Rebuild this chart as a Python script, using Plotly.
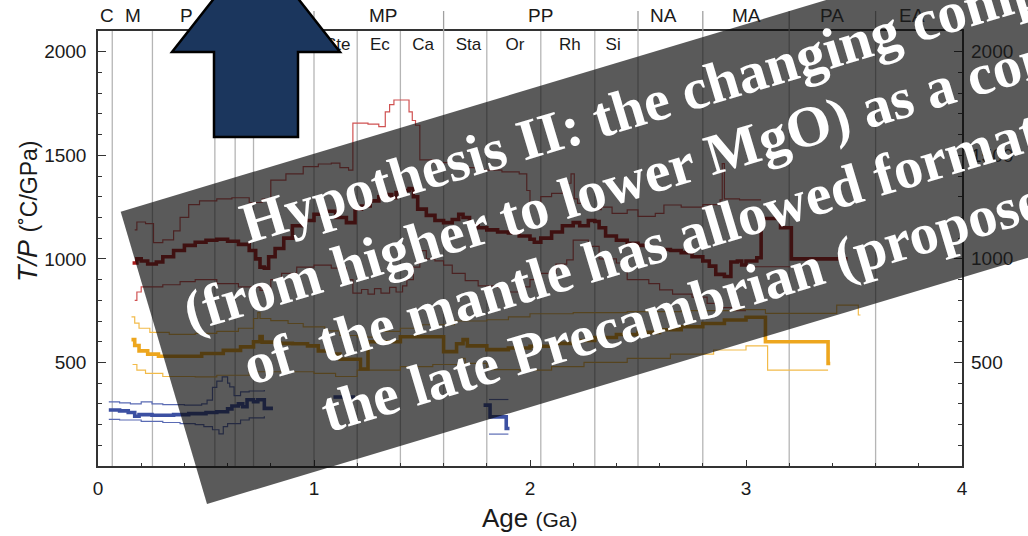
import plotly.graph_objects as go

# ---------------- data ----------------
# Geological time-scale boundaries (Ga)
period_bounds = [0.066, 0.252, 0.541, 0.635, 0.720, 1.0, 1.2, 1.4, 1.6, 1.8,
                 2.05, 2.3, 2.5, 2.8, 3.2, 3.6]
era_bounds = [0.541, 1.0, 1.6, 2.5, 2.8, 3.2, 3.6]
era_labels = ["C", "M", "P", "MP", "PP", "NA", "MA", "PA", "EA"]
era_centers = [0.04, 0.16, 0.41, 1.32, 2.05, 2.62, 3.0, 3.4, 3.77]
period_labels = ["Ed", "Cr", "To", "Ste", "Ec", "Ca", "Sta", "Or", "Rh", "Si"]
period_centers = [0.59, 0.68, 0.86, 1.11, 1.305, 1.505, 1.715, 1.93, 2.185, 2.385]

# High T/P metamorphism: moving mean and bounds (age Ga, T/P degC/GPa)
red_mean = [(0.16, 980), (0.18, 1000), (0.20, 990), (0.23, 975), (0.27, 985), (0.30, 1010),
            (0.35, 1040), (0.40, 1065), (0.45, 1080), (0.50, 1090), (0.55, 1095), (0.60, 1085),
            (0.65, 1070), (0.70, 1040), (0.73, 1000), (0.75, 960), (0.77, 955), (0.79, 1010),
            (0.82, 1050), (0.86, 1100), (0.90, 1160), (0.95, 1185), (1.00, 1215), (1.05, 1230),
            (1.10, 1200), (1.15, 1175), (1.19, 1240), (1.22, 1255), (1.26, 1280), (1.30, 1300),
            (1.33, 1310), (1.36, 1295), (1.38, 1320), (1.41, 1330), (1.44, 1340), (1.46, 1300),
            (1.48, 1240), (1.52, 1210), (1.56, 1185), (1.60, 1175), (1.64, 1190), (1.67, 1215),
            (1.69, 1200), (1.72, 1165), (1.76, 1150), (1.80, 1140), (1.85, 1130), (1.90, 1125),
            (1.95, 1110), (2.00, 1095), (2.02, 1080), (2.05, 1100), (2.10, 1130), (2.15, 1160),
            (2.20, 1175), (2.23, 1160), (2.27, 1185), (2.30, 1180), (2.32, 1150), (2.35, 1110),
            (2.40, 1090), (2.45, 1075), (2.50, 1065), (2.55, 1055), (2.60, 1045), (2.65, 1040),
            (2.70, 1030), (2.75, 1010), (2.80, 990), (2.83, 965), (2.86, 925), (2.90, 915),
            (2.93, 985), (2.96, 990), (2.98, 970), (3.00, 990), (3.05, 1005), (3.07, 1195),
            (3.13, 1195), (3.16, 1150), (3.21, 1000), (3.47, 1000)]
red_upper = [(0.17, 1140), (0.18, 1178), (0.22, 1170), (0.257, 1078), (0.30, 1092), (0.35, 1135),
             (0.38, 1200), (0.42, 1262), (0.47, 1280), (0.55, 1290), (0.62, 1295), (0.70, 1272),
             (0.76, 1288), (0.80, 1380), (0.87, 1410), (0.95, 1445), (1.02, 1458), (1.08, 1462),
             (1.12, 1440), (1.16, 1428), (1.18, 1655), (1.25, 1650), (1.30, 1638), (1.33, 1710),
             (1.35, 1745), (1.37, 1767), (1.43, 1767), (1.44, 1710), (1.455, 1668), (1.47, 1645),
             (1.49, 1478), (1.55, 1465), (1.63, 1455), (1.70, 1440), (1.78, 1428), (1.87, 1420),
             (1.95, 1410), (1.985, 1330), (2.00, 1270), (2.05, 1300), (2.10, 1316), (2.15, 1365),
             (2.19, 1410), (2.205, 1290), (2.22, 1268), (2.27, 1238), (2.33, 1250), (2.38, 1220),
             (2.45, 1236), (2.50, 1205), (2.58, 1220), (2.62, 1260), (2.70, 1250), (2.80, 1262),
             (2.88, 1285), (2.89, 1460), (2.90, 1290), (2.97, 1285), (3.07, 1285)]
red_lower = [(0.17, 800), (0.18, 840), (0.20, 865), (0.30, 875), (0.38, 890), (0.45, 900),
             (0.55, 880), (0.65, 865), (0.75, 848), (0.80, 900), (0.85, 930), (0.92, 960),
             (1.00, 970), (1.08, 955), (1.15, 900), (1.18, 835), (1.22, 852), (1.25, 830),
             (1.28, 856), (1.31, 835), (1.35, 862), (1.38, 840), (1.41, 870), (1.43, 900),
             (1.46, 960), (1.49, 1040), (1.52, 1000), (1.56, 990), (1.60, 970), (1.64, 930),
             (1.70, 895), (1.76, 870), (1.85, 862), (1.90, 840), (1.95, 865), (2.00, 900),
             (2.05, 930), (2.12, 975), (2.17, 995), (2.20, 1090), (2.27, 1060), (2.32, 1000),
             (2.40, 980), (2.45, 900), (2.55, 880), (2.60, 850), (2.66, 830), (2.75, 815),
             (2.82, 785), (2.88, 765), (2.95, 750), (3.00, 750), None, (3.03, 962), (3.24, 962)]

# Intermediate T/P metamorphism
gold_mean = [(0.155, 610), (0.17, 582), (0.19, 556), (0.23, 540), (0.28, 530), (0.40, 530),
             (0.48, 543), (0.58, 558), (0.66, 575), (0.72, 600), (0.75, 625), (0.76, 598),
             (0.82, 592), (0.90, 590), (0.97, 580), (1.02, 555), (1.08, 540), (1.12, 515),
             (1.215, 468), (1.25, 600), (1.40, 624), (1.60, 552), (1.66, 590), (1.69, 610),
             (1.71, 580), (1.80, 562), (1.90, 570), (2.00, 578), (2.10, 592), (2.20, 606),
             (2.30, 620), (2.40, 635), (2.50, 645), (2.60, 658), (2.70, 672), (2.80, 688),
             (2.90, 705), (3.00, 718), (3.09, 600), (3.38, 495), (3.39, 495)]
gold_upper = [(0.155, 720), (0.17, 690), (0.19, 665), (0.24, 645), (0.33, 635), (0.45, 640),
              (0.55, 650), (0.65, 665), (0.72, 712), (0.74, 740), (0.75, 712), (0.80, 702),
              (0.88, 688), (0.95, 672), (1.05, 652), (1.12, 630), (1.20, 622), (1.30, 650),
              (1.40, 665), (1.50, 682), (1.65, 700), (1.80, 706), (1.90, 720), (2.00, 735),
              (2.20, 740), (2.45, 745), (2.70, 750), (2.95, 755), (3.09, 737), (3.42, 777),
              (3.52, 729), (3.53, 729)]
gold_lower = [(0.16, 490), (0.18, 463), (0.22, 447), (0.30, 432), (0.45, 430), (0.55, 438),
              (0.70, 455), (0.90, 455), (1.00, 447), (1.10, 432), (1.20, 463), (1.40, 480),
              (1.55, 490), (1.68, 520), (1.70, 495), (1.80, 465), (1.95, 463), (2.10, 480),
              (2.25, 500), (2.45, 520), (2.65, 540), (2.85, 560), (3.00, 580), (3.10, 463),
              (3.38, 463)]

# Low T/P metamorphism
blue_mean = [(0.05, 270), (0.10, 266), (0.14, 258), (0.17, 240), (0.19, 248), (0.25, 245),
             (0.35, 248), (0.42, 253), (0.50, 258), (0.55, 262), (0.60, 276), (0.62, 290),
             (0.65, 300), (0.67, 286), (0.69, 320), (0.72, 310), (0.74, 320), (0.77, 278),
             (0.81, 278), None, (1.09, 333), (1.19, 333), None,
             (1.785, 294), (1.815, 237), (1.89, 181), (1.905, 181)]
blue_upper = [(0.05, 310), (0.10, 305), (0.15, 300), (0.20, 310), (0.25, 300), (0.30, 296),
              (0.40, 294), (0.48, 300), (0.505, 318), (0.53, 380), (0.55, 410), (0.575, 430),
              (0.60, 400), (0.61, 382), (0.63, 340), (0.66, 358), (0.70, 362), (0.77, 367),
              None, (1.81, 321), (1.90, 321)]
blue_lower = [(0.05, 225), (0.10, 222), (0.20, 215), (0.30, 210), (0.38, 205), (0.45, 200),
              (0.49, 190), (0.53, 175), (0.56, 155), (0.58, 190), (0.60, 205), (0.66, 222),
              (0.70, 232), (0.77, 240), None, (1.81, 154), (1.90, 154)]

y_ticks = [500, 1000, 1500, 2000]
x_ticks = [0, 1, 2, 3, 4]

banner_lines = ["Hypothesis II: the changing composition",
                "(from higher to lower MgO) as a consequence",
                "of&nbsp; the mantle has allowed formation",
                "the late Precambrian (proposed)"]

# ---------------- layout geometry ----------------
W, H = 1028, 536
ML, MR, MT, MB = 98, 66, 31, 70
PW, PH = W - ML - MR, H - MT - MB
Y_MAX = 2100


def to_paper(px, py):
    return (px - ML) / PW, (H - MB - py) / PH


def unzip(pairs):
    xs, ys = [], []
    for p in pairs:
        if p is None:
            xs.append(None)
            ys.append(None)
        else:
            xs.append(p[0])
            ys.append(p[1])
    return xs, ys


fig = go.Figure()


def add_step(pairs, color, width):
    xs, ys = unzip(pairs)
    fig.add_trace(go.Scatter(x=xs, y=ys, mode="lines", line=dict(color=color, width=width, shape="hv"),
                             connectgaps=False, hoverinfo="skip", showlegend=False))


# bounds first, means on top
add_step(red_upper, "#d05252", 1.2)
add_step(red_lower, "#d05252", 1.2)
add_step(gold_upper, "#f2bb4a", 1.2)
add_step(gold_lower, "#f2bb4a", 1.2)
add_step(blue_upper, "#5a6bb4", 1.2)
add_step(blue_lower, "#5a6bb4", 1.2)
add_step(red_mean, "#aa1c1c", 3.6)
add_step(gold_mean, "#eda61e", 3.6)
add_step(blue_mean, "#3c50a2", 3.6)

# period names inside the frame (drawn beneath the overlay shapes)
per_y = (H - MB - 46) / PH * Y_MAX
fig.add_trace(go.Scatter(x=period_centers, y=[per_y] * len(period_centers), mode="text",
                         text=period_labels,
                         textfont=dict(family="Liberation Sans", size=17, color="#1a1a1a"),
                         hoverinfo="skip", showlegend=False))

shapes = []
for b in period_bounds:
    shapes.append(dict(type="line", xref="x", yref="paper", x0=b, x1=b, y0=0, y1=1,
                       line=dict(color="#b5b5b5", width=1.3), layer="below"))
top_h = 20 / PH
for b in era_bounds:
    shapes.append(dict(type="line", xref="x", yref="paper", x0=b, x1=b, y0=1, y1=1 + top_h,
                       line=dict(color="#a0a0a0", width=1.3), layer="above"))

# rotated banner
ang_dx, ang_dy = 0.9578, -0.2874
tl = (120.7, 211.7)
bl = (207.0, 504.0)
ext = 1400
tr = (tl[0] + ext * ang_dx, tl[1] + ext * ang_dy)
br = (bl[0] + ext * ang_dx, bl[1] + ext * ang_dy)
pts = [to_paper(*p) for p in (tl, tr, br, bl)]
path = "M " + " L ".join(f"{x:.5f},{y:.5f}" for x, y in pts) + " Z"
shapes.append(dict(type="path", xref="paper", yref="paper", path=path,
                   fillcolor="rgba(12,12,12,0.68)", line=dict(width=0), layer="above"))

# up arrow
arrow_px = [(256, -55), (340, 52), (298, 52), (298, 137), (214, 137), (214, 52), (172, 52)]
apts = [to_paper(*p) for p in arrow_px]
apath = "M " + " L ".join(f"{x:.5f},{y:.5f}" for x, y in apts) + " Z"
shapes.append(dict(type="path", xref="paper", yref="paper", path=apath,
                   fillcolor="#1b365d", line=dict(color="#000000", width=2.5), layer="above"))

annotations = []
axis_font = dict(family="Liberation Sans", size=19, color="#1a1a1a")

# era names above the frame
era_py = 1 + 15 / PH
for lab, c in zip(era_labels, era_centers):
    annotations.append(dict(xref="x", yref="paper", x=c, y=era_py, text=lab, showarrow=False,
                            xanchor="center", yanchor="middle",
                            font=dict(family="Liberation Sans", size=19, color="#1a1a1a")))

# right-hand tick labels
for v in y_ticks:
    annotations.append(dict(xref="paper", yref="y", x=1 + 7 / PW, y=v, text=str(v), showarrow=False,
                            xanchor="left", yanchor="middle", font=axis_font))

# axis titles
tx, ty = to_paper(28, 211)
annotations.append(dict(xref="paper", yref="paper", x=tx, y=ty, textangle=-90, showarrow=False,
                        text="<i>T/P</i> <span style='font-size:23px'>(˚C/GPa)</span>",
                        font=dict(family="Liberation Sans", size=27, color="#1a1a1a"),
                        xanchor="center", yanchor="middle"))
ax_x, ax_y = to_paper(530, 518)
annotations.append(dict(xref="paper", yref="paper", x=ax_x, y=ax_y, showarrow=False,
                        text="Age <span style='font-size:21px'>(Ga)</span>",
                        font=dict(family="Liberation Sans", size=26, color="#1a1a1a"),
                        xanchor="center", yanchor="middle"))

# banner text: each line placed from its baseline start
starts = [(228, 244), (171, 332), (231, 386), (309, 433)]
fs = 58
down = (0.2874, 0.9578)
left = (-0.9578, 0.2874)
for line, (bx, by) in zip(banner_lines, starts):
    d = 0.216 * fs + 2
    cx = bx + d * down[0] + 2 * left[0]
    cy = by + d * down[1] + 2 * left[1]
    px_, py_ = to_paper(cx, cy)
    annotations.append(dict(xref="paper", yref="paper", x=px_, y=py_, showarrow=False,
                            text=line, textangle=-16.7, xanchor="left", yanchor="bottom",
                            font=dict(family="Liberation Serif", size=fs, color="white",
                                      weight="bold")))

fig.update_layout(
    width=W, height=H, margin=dict(l=ML, r=MR, t=MT, b=MB, pad=0),
    paper_bgcolor="white", plot_bgcolor="white", showlegend=False,
    xaxis=dict(range=[0, 4], tickvals=x_ticks, ticks="inside", ticklen=6, tickwidth=1.3,
               tickcolor="#333", showline=True, linecolor="#333", linewidth=1.5, mirror=True,
               showgrid=False, zeroline=False, tickfont=axis_font, ticklabelstandoff=4,
               minor=dict(dtick=0.2, ticks="inside", ticklen=3, tickcolor="#333", showgrid=False)),
    yaxis=dict(range=[0, Y_MAX], tickvals=y_ticks, ticks="inside", ticklen=8, tickwidth=1.3,
               tickcolor="#333", showline=True, linecolor="#333", linewidth=1.5, mirror="ticks",
               showgrid=False, zeroline=False, tickfont=axis_font, ticklabelstandoff=6,
               minor=dict(dtick=100, ticks="inside", ticklen=4, tickcolor="#333", showgrid=False)),
    shapes=shapes, annotations=annotations,
)

fig.write_html("out.html")
